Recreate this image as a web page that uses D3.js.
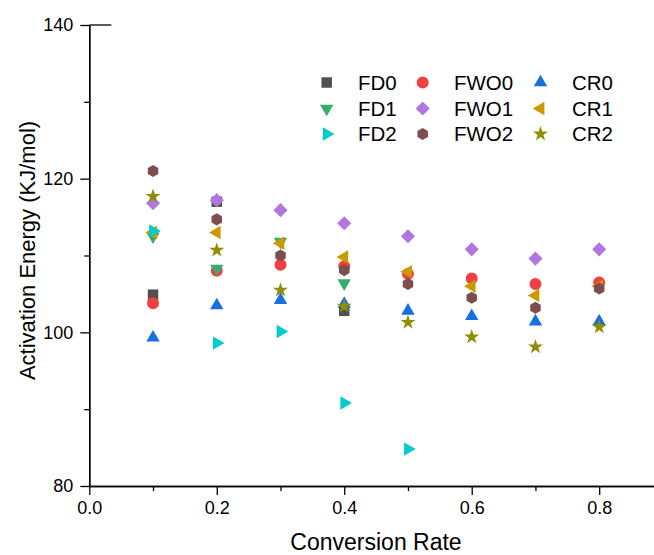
<!DOCTYPE html>
<html>
<head>
<meta charset="utf-8">
<script src="https://cdn.jsdelivr.net/npm/d3@7"></script>
<style>
  html, body { margin: 0; padding: 0; background: #fff; }
  svg { display: block; }
  text { font-family: "Liberation Sans", Arial, sans-serif; fill: #000; }
</style>
</head>
<body>
<svg id="chart" width="654" height="555"></svg>
<script>
// Conversion rates (alpha) at which activation energy was evaluated
const conversion = [0.1, 0.2, 0.3, 0.4, 0.5, 0.6, 0.7, 0.8];

// Activation energy (kJ/mol) per method and sample; null = no value
const FD0  = [104.9, 117.0, null, 102.8];
const FD1  = [112.5, 108.3, 111.8, 106.4];
const FD2  = [113.2, 98.6, 100.1, 90.8, 84.8];
const FWO0 = [103.8, 108.0, 108.8, 108.6, 107.6, 107.0, 106.3, 106.5];
const FWO1 = [116.8, 117.2, 115.9, 114.2, 112.5, 110.8, 109.6, 110.8];
const FWO2 = [121.0, 114.7, 110.0, 108.1, 106.3, 104.5, 103.2, 105.7];
const CR0  = [99.3, 103.5, 104.2, 103.7, 102.8, 102.1, 101.4, 101.4];
const CR1  = [113.0, 113.0, 111.6, 109.8, 107.9, 106.0, 104.8, 106.0];
const CR2  = [117.7, 110.7, 105.5, 103.4, 101.3, 99.4, 98.1, 100.7];

const xTicks = [0.0, 0.2, 0.4, 0.6, 0.8];
const yTicks = [80, 100, 120, 140];

// Hexagon symbol (point up)
const symbolHexagon = {
  draw(ctx, size) {
    const r = Math.sqrt(size / (1.5 * Math.sqrt(3)));
    for (let i = 0; i < 6; i++) {
      const a = Math.PI / 3 * i - Math.PI / 2;
      const px = r * Math.cos(a), py = r * Math.sin(a);
      if (i === 0) ctx.moveTo(px, py); else ctx.lineTo(px, py);
    }
    ctx.closePath();
  }
};

// Series in drawing order (later ones sit on top)
const series = [
  { name: "FD0",  values: FD0,  color: "#515151", type: d3.symbolSquare,   size: 110, rot: 0 },
  { name: "FWO0", values: FWO0, color: "#F14040", type: d3.symbolCircle,   size: 113, rot: 0 },
  { name: "CR0",  values: CR0,  color: "#1A6FDF", type: d3.symbolTriangle, size: 78,  rot: 0 },
  { name: "FD1",  values: FD1,  color: "#37AD6B", type: d3.symbolTriangle, size: 78,  rot: 180 },
  { name: "FWO1", values: FWO1, color: "#B177DE", type: d3.symbolSquare,   size: 100, rot: 45 },
  { name: "CR1",  values: CR1,  color: "#CC9900", type: d3.symbolTriangle, size: 78,  rot: -90 },
  { name: "FD2",  values: FD2,  color: "#00CBCC", type: d3.symbolTriangle, size: 78,  rot: 90 },
  { name: "FWO2", values: FWO2, color: "#7D4E4E", type: symbolHexagon,     size: 95,  rot: 0 },
  { name: "CR2",  values: CR2,  color: "#8E8E00", type: d3.symbolStar,     size: 70,  rot: 0 }
];

// Legend layout: three columns of three entries
const legendColumns = [["FD0", "FD1", "FD2"], ["FWO0", "FWO1", "FWO2"], ["CR0", "CR1", "CR2"]];

const svg = d3.select("#chart");

const x = d3.scaleLinear().domain([0, 0.886]).range([89.3, 654]);
const y = d3.scaleLinear().domain([80, 140]).range([486, 25]);

// Axes
const xAxis = d3.axisBottom(x).tickValues(xTicks).tickFormat(d3.format(".1f")).tickSize(9).tickSizeOuter(0).tickPadding(6);
const xMinor = d3.axisBottom(x).tickValues([0.1, 0.3, 0.5, 0.7]).tickFormat("").tickSize(5).tickSizeOuter(0);
const yAxis = d3.axisLeft(y).tickValues(yTicks).tickFormat(d3.format("d")).tickSize(9).tickSizeOuter(0).tickPadding(7);
const yMinor = d3.axisLeft(y).tickValues([90, 110, 130]).tickFormat("").tickSize(5).tickSizeOuter(0);

function styleAxis(g) {
  g.selectAll("path.domain").attr("stroke", "#000").attr("stroke-width", 1.3);
  g.selectAll(".tick line").attr("stroke", "#000").attr("stroke-width", 1.3);
  g.selectAll(".tick text").style("font-size", "18px").attr("fill", "#000");
}

svg.append("g").attr("transform", `translate(0,${y(80)})`).call(xMinor).call(styleAxis);
svg.append("g").attr("transform", `translate(0,${y(80)})`).call(xAxis).call(styleAxis);
svg.append("g").attr("transform", `translate(${x(0)},0)`).call(yMinor).call(styleAxis);
svg.append("g").attr("transform", `translate(${x(0)},0)`).call(yAxis).call(styleAxis);

// Short cap at the top of the y axis
svg.append("line")
  .attr("x1", x(0)).attr("x2", x(0) + 22)
  .attr("y1", y(140)).attr("y2", y(140))
  .attr("stroke", "#000").attr("stroke-width", 1.3);

// Axis titles
svg.append("text")
  .attr("x", 376).attr("y", 550)
  .attr("text-anchor", "middle")
  .style("font-size", "23px")
  .text("Conversion Rate");

svg.append("text")
  .attr("transform", `translate(35,${y(110) - 5}) rotate(-90)`)
  .attr("text-anchor", "middle")
  .style("font-size", "22px")
  .text("Activation Energy (KJ/mol)");

// Markers
const plot = svg.append("g");
series.forEach(s => {
  const sym = d3.symbol().type(s.type).size(s.size);
  plot.append("g")
    .selectAll("path")
    .data(s.values
      .map((v, i) => ({ cx: conversion[i], cy: v }))
      .filter(d => d.cy != null))
    .join("path")
    .attr("d", sym)
    .attr("transform", d => `translate(${x(d.cx)},${y(d.cy)}) rotate(${s.rot})`)
    .attr("fill", s.color);
});

// Legend
const legend = svg.append("g");
const colSymbolX = [326.7, 422.7, 540.5];
const colTextX = [358, 454, 572];
const rowY = [82.5, 108.5, 134];
legendColumns.forEach((col, ci) => {
  col.forEach((name, ri) => {
    const s = series.find(d => d.name === name);
    legend.append("path")
      .attr("d", d3.symbol().type(s.type).size(s.size)())
      .attr("transform", `translate(${colSymbolX[ci]},${rowY[ri]}) rotate(${s.rot})`)
      .attr("fill", s.color);
    legend.append("text")
      .attr("x", colTextX[ci]).attr("y", rowY[ri])
      .attr("dy", "0.36em")
      .style("font-size", "20.5px")
      .text(name);
  });
});
</script>
</body>
</html>
